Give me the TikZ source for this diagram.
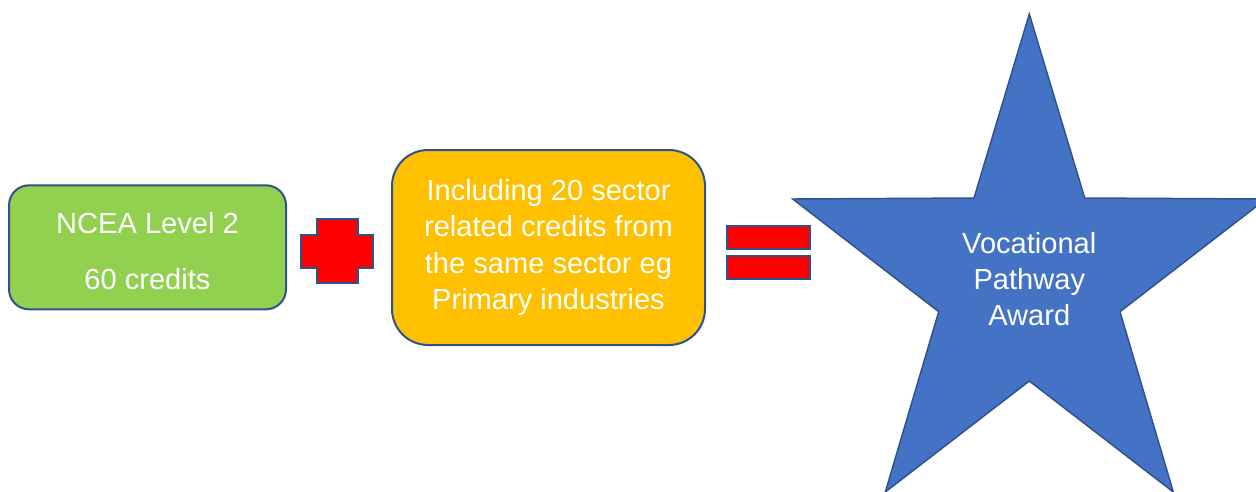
\documentclass[tikz,border=0pt]{standalone}
\usepackage{fontspec}
\setmainfont{Liberation Sans}
\usetikzlibrary{positioning}
\definecolor{ncgreen}{HTML}{92D050}
\definecolor{ncorange}{HTML}{FFC000}
\definecolor{ncblue}{HTML}{4472C4}
\definecolor{ncedge}{HTML}{2F528F}
\definecolor{ncred}{HTML}{FF0000}

\begin{document}
\begin{tikzpicture}[x=0.75pt,y=-0.75pt,
  card/.style={draw=ncedge,line width=1.5pt,align=center,text=white,inner sep=0pt,
    font=\fontsize{21.8}{27.4}\selectfont},
  label/.style={align=center,text=white,inner sep=0pt,font=\fontsize{21.8}{27}\selectfont},
  sign/.style={draw=ncedge,line width=1.5pt,fill=ncred}
]
  \useasboundingbox (0,0) rectangle (1256,492);
  \clip (0,0) rectangle (1256,492);

  % the two requirements
  \node[card,fill=ncgreen,rounded corners=15pt,minimum width=207.75pt,minimum height=93pt]
    (level) at (147.5,247.3) {\rule{0pt}{21.1pt}NCEA Level 2\\[14.6pt]60 credits};
  \node[card,fill=ncorange,rounded corners=27pt,minimum width=234.75pt,minimum height=146.25pt]
    (sector) at (548.5,247.5) {Including 20 sector\\related credits from\\the same sector eg\\Primary industries};

  % plus and equals signs
  \draw[sign] (317,219) -- (358,219) -- (358,235) -- (373,235) -- (373,268) -- (358,268)
    -- (358,283) -- (317,283) -- (317,268) -- (301,268) -- (301,235) -- (317,235) -- cycle;
  \draw[sign] (727,226) rectangle (810,249);
  \draw[sign] (727,256) rectangle (810,279);

  % the award
  \draw[draw=ncedge,line width=1.1pt,fill=ncblue] (1029.3,14) -- (1084.7,198) -- (1266,199)
    -- (1120,311.7) -- (1173.3,492) -- (1029.3,381) -- (885.3,492) -- (938.7,311.7)
    -- (792.7,199) -- (974,198) -- cycle;
  \node[label] (award) at (1029.3,279) {Vocational\\Pathway\\Award};
\end{tikzpicture}
\end{document}
